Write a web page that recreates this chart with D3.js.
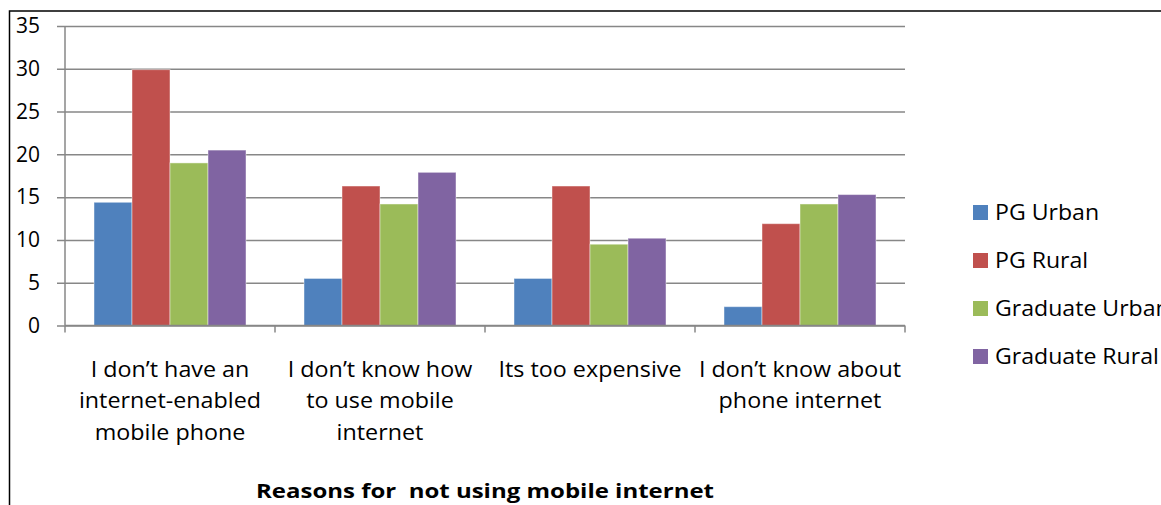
<!DOCTYPE html>
<html>
<head>
<meta charset="utf-8">
<script src="https://cdn.jsdelivr.net/npm/d3@7"></script>
<style>
  body { margin: 0; background: #fff; }
  text { font-family: 'Open Sans', sans-serif; fill: #000; }
</style>
</head>
<body>
<div id="chart"></div>
<script>
// data
const categories = [
  'I don’t have an internet-enabled mobile phone',
  'I don’t know how to use mobile internet',
  'Its too expensive',
  'I don’t know about phone internet'
]
const categoryLines = [
  ['I don’t have an', 'internet-enabled', 'mobile phone'],
  ['I don’t know how', 'to use mobile', 'internet'],
  ['Its too expensive'],
  ['I don’t know about', 'phone internet']
]
const seriesNames = ['PG Urban', 'PG Rural', 'Graduate Urban', 'Graduate Rural']
const pgUrban = [14.4, 5.5, 5.5, 2.2]
const pgRural = [29.9, 16.3, 16.3, 11.9]
const gradUrban = [19.0, 14.2, 9.5, 14.2]
const gradRural = [20.5, 17.9, 10.2, 15.3]
const yTicks = [0, 5, 10, 15, 20, 25, 30, 35]
const xTitle = 'Reasons for  not using mobile internet'

const colors = ['#4F81BD', '#C0504D', '#9BBB59', '#8064A2']
const values = [pgUrban, pgRural, gradUrban, gradRural]

const width = 1161
const height = 505
const margin = { left: 65, top: 26, right: 256, bottom: 179.5 }
const innerWidth = width - margin.left - margin.right
const innerHeight = height - margin.top - margin.bottom

const svg = d3.select('#chart')
  .append('svg')
  .attr('width', width)
  .attr('height', height)

// outer frame, runs off the right and bottom edges
svg.append('rect')
  .attr('x', 9.5)
  .attr('y', 11)
  .attr('width', 1300)
  .attr('height', 600)
  .attr('fill', 'none')
  .attr('stroke', '#000')
  .attr('stroke-width', 1.5)

const g = svg.append('g')
  .attr('transform', `translate(${margin.left},${margin.top})`)

const x0 = d3.scaleBand()
  .domain(categories)
  .range([0, innerWidth])
  .paddingInner(0)

const x1 = d3.scaleBand()
  .domain(seriesNames)
  .range([29, x0.bandwidth() - 29])

const y = d3.scaleLinear()
  .domain([0, 35])
  .range([innerHeight, 0])

// gridlines + y labels
const yAxis = d3.axisLeft(y)
  .tickValues(yTicks)
  .tickSize(-innerWidth)
  .tickPadding(25)

const yAxisG = g.append('g').call(yAxis)
yAxisG.select('.domain').remove()
yAxisG.selectAll('.tick line')
  .attr('x1', -8)
  .attr('x2', innerWidth)
  .attr('stroke', '#878787')
  .attr('stroke-width', 1.5)
yAxisG.selectAll('.tick text')
  .attr('x', -25)
  .style('font-size', '21px')
  .style('font-family', "'Open Sans', sans-serif")
  .attr('fill', '#000')

g.append('line')
  .attr('x1', 0).attr('x2', 0)
  .attr('y1', 0).attr('y2', innerHeight)
  .attr('stroke', '#878787')
  .attr('stroke-width', 1.5)

// bars
const groups = g.selectAll('.group')
  .data(categories)
  .enter()
  .append('g')
  .attr('class', 'group')
  .attr('transform', d => `translate(${x0(d)},0)`)

groups.selectAll('rect')
  .data((d, i) => seriesNames.map((s, j) => ({ s, v: values[j][i], c: colors[j] })))
  .enter()
  .append('rect')
  .attr('x', d => x1(d.s))
  .attr('y', d => y(d.v))
  .attr('width', x1.bandwidth())
  .attr('height', d => innerHeight - y(d.v))
  .attr('fill', d => d.c)
  .attr('stroke', 'rgba(255,255,255,0.45)')
  .attr('stroke-width', 1)

// x axis line and boundary ticks
g.append('line')
  .attr('x1', 0).attr('x2', innerWidth)
  .attr('y1', innerHeight).attr('y2', innerHeight)
  .attr('stroke', '#878787')
  .attr('stroke-width', 1.5)

const bounds = categories.map(c => x0(c)).concat([innerWidth])
g.selectAll('.xtick')
  .data(bounds)
  .enter()
  .append('line')
  .attr('class', 'xtick')
  .attr('x1', d => d).attr('x2', d => d)
  .attr('y1', innerHeight).attr('y2', innerHeight + 7)
  .attr('stroke', '#878787')
  .attr('stroke-width', 1.5)

// category labels (the source font is a bit wider, so stretch slightly)
const xLabels = g.selectAll('.xlabel')
  .data(categories)
  .enter()
  .append('text')
  .attr('class', 'xlabel')
  .attr('text-anchor', 'middle')
  .attr('transform', d => `translate(${x0(d) + x0.bandwidth() / 2},${innerHeight + 51}) scale(1.06,1)`)
  .style('font-size', '22px')

xLabels.selectAll('tspan')
  .data((d, i) => categoryLines[i])
  .enter()
  .append('tspan')
  .attr('x', 0)
  .attr('y', (d, i) => i * 32)
  .text(d => d)

// axis title
g.append('text')
  .attr('transform', `translate(${innerWidth / 2},${innerHeight + 172.5}) scale(1.2,1)`)
  .attr('text-anchor', 'middle')
  .style('font-size', '20px')
  .style('font-weight', 'bold')
  .style('white-space', 'pre')
  .text(xTitle)

// legend
const legend = svg.append('g')
  .attr('transform', 'translate(973,212)')

const item = legend.selectAll('.item')
  .data(seriesNames)
  .enter()
  .append('g')
  .attr('class', 'item')
  .attr('transform', (d, i) => `translate(0,${i * 48})`)

item.append('rect')
  .attr('x', 0)
  .attr('y', -7)
  .attr('width', 15)
  .attr('height', 15)
  .attr('fill', (d, i) => colors[i])

item.append('text')
  .attr('transform', 'translate(22,8) scale(1.1,1)')
  .style('font-size', '21px')
  .text(d => d)
</script>
</body>
</html>
